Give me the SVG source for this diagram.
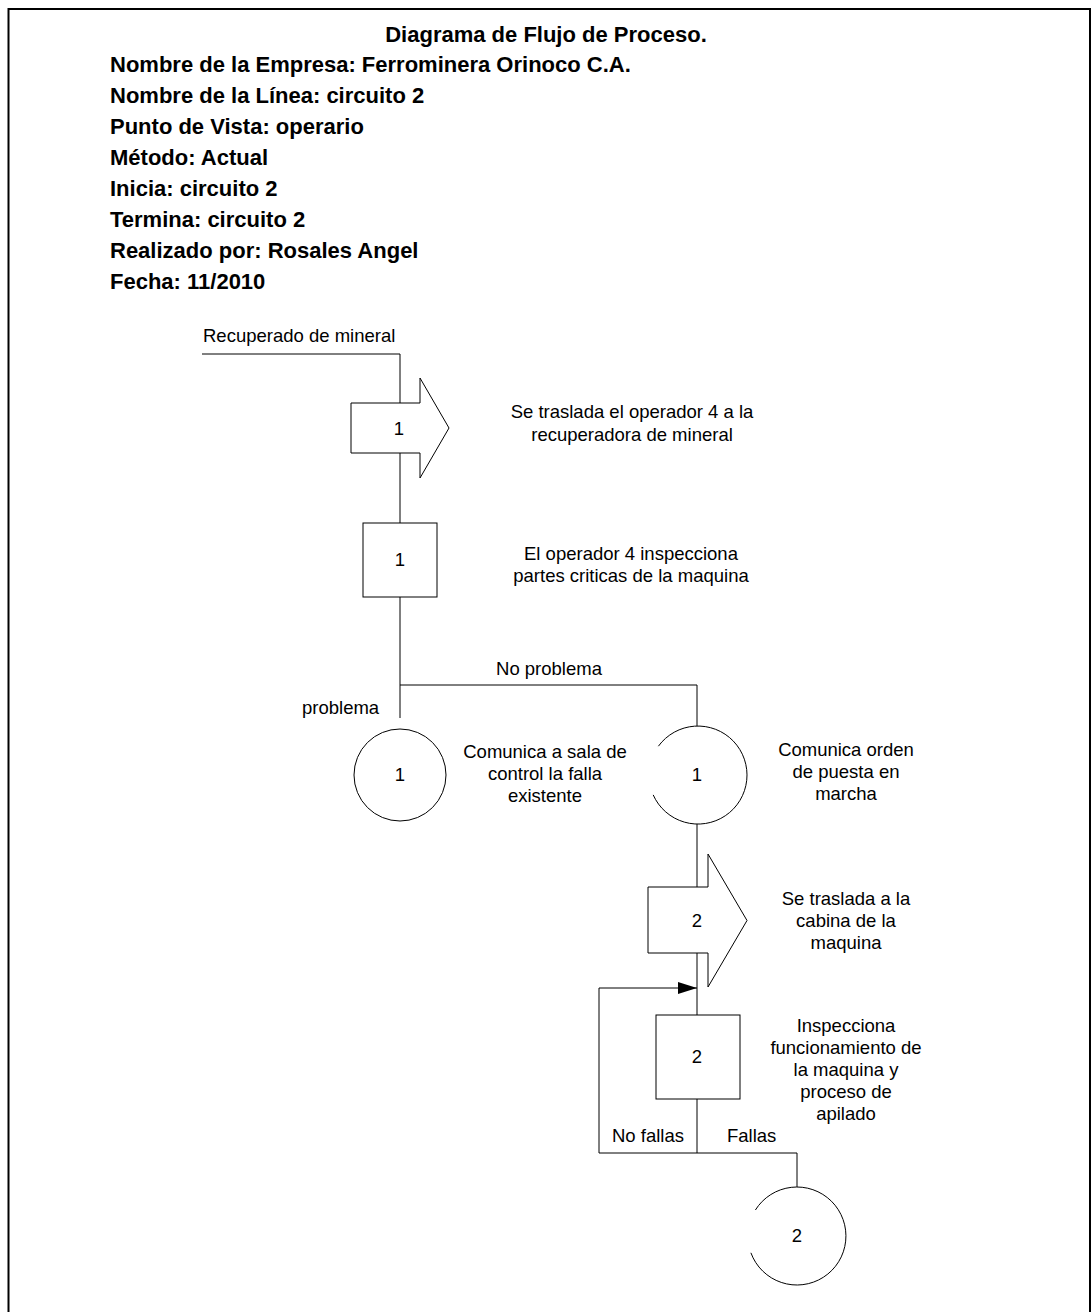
<svg xmlns="http://www.w3.org/2000/svg" width="1092" height="1312" viewBox="0 0 1092 1312">
<style>
.hdr{font-family:"Liberation Sans",Arial,sans-serif;font-weight:bold;font-size:22px;fill:#000}
.t{font-family:"Liberation Sans",Arial,sans-serif;font-size:18.5px;fill:#000}
.c{text-anchor:middle}
.shape{fill:#fff;stroke:#000;stroke-width:1}
.ln{fill:none;stroke:#000;stroke-width:1}
</style>
<defs>
<marker id="ah" markerUnits="userSpaceOnUse" markerWidth="20" markerHeight="14" refX="19" refY="6" orient="auto">
<path d="M0,0 L19,6 L0,12 z" fill="#000"/>
</marker>
</defs>
<rect width="1092" height="1312" fill="#fff"/>
<path d="M8.5,1312 V9 H1090 V1312" fill="none" stroke="#000" stroke-width="2"/>
<g id="header">
<text class="hdr c" x="546" y="42">Diagrama de Flujo de Proceso.</text>
<text class="hdr" x="110" y="72">Nombre de la Empresa: Ferrominera Orinoco C.A.</text>
<text class="hdr" x="110" y="103">Nombre de la Línea: circuito 2</text>
<text class="hdr" x="110" y="134">Punto de Vista: operario</text>
<text class="hdr" x="110" y="165">Método: Actual</text>
<text class="hdr" x="110" y="196">Inicia: circuito 2</text>
<text class="hdr" x="110" y="227">Termina: circuito 2</text>
<text class="hdr" x="110" y="258">Realizado por: Rosales Angel</text>
<text class="hdr" x="110" y="289">Fecha: 11/2010</text>
</g>
<g id="connectors">
<path class="ln" d="M202,354 H400 V403"/>
<path class="ln" d="M400,453 V523"/>
<path class="ln" d="M400,597 V718"/>
<path class="ln" d="M400,685 H697 V726"/>
<path class="ln" d="M697,824 V887"/>
<path class="ln" d="M697,953 V1015"/>
<path class="ln" d="M697,1099 V1153"/>
<path class="ln" d="M599,1153 H797 V1187"/>
<path class="ln" d="M599,1153 V988 H697" marker-end="url(#ah)"/>
<text class="t" x="203" y="342">Recuperado de mineral</text>
<text class="t c" x="549" y="675">No problema</text>
<text class="t" x="302" y="714">problema</text>
<text class="t" x="612" y="1142">No fallas</text>
<text class="t" x="727" y="1142">Fallas</text>
</g>
<g id="transporte1">
<polygon class="shape" points="351,403 420,403 420,378 449,428 420,478 420,453 351,453"/>
<text class="t c" x="399" y="435">1</text>
<text class="t c" x="632" y="418">Se traslada el operador 4 a la</text>
<text class="t c" x="632" y="441">recuperadora de mineral</text>
</g>
<g id="inspeccion1">
<rect class="shape" x="363" y="523" width="74" height="74"/>
<text class="t c" x="400" y="566">1</text>
<text class="t c" x="631" y="560">El operador 4 inspecciona</text>
<text class="t c" x="631" y="582">partes criticas de la maquina</text>
</g>
<g id="operacion1a">
<circle class="shape" cx="400" cy="775" r="46"/>
<text class="t c" x="400" y="781">1</text>
<text class="t c" x="545" y="758">Comunica a sala de</text>
<text class="t c" x="545" y="780">control la falla</text>
<text class="t c" x="545" y="802">existente</text>
</g>
<g id="operacion1b">
<path class="ln" d="M658.4,746.2 A49,49 0 1 1 653.2,794.9"/>
<text class="t c" x="697" y="781">1</text>
<text class="t c" x="846" y="756">Comunica orden</text>
<text class="t c" x="846" y="778">de puesta en</text>
<text class="t c" x="846" y="800">marcha</text>
</g>
<g id="transporte2">
<polygon class="shape" points="648,887 708,887 708,854 747,920.5 708,987 708,953 648,953"/>
<text class="t c" x="697" y="927">2</text>
<text class="t c" x="846" y="905">Se traslada a la</text>
<text class="t c" x="846" y="927">cabina de la</text>
<text class="t c" x="846" y="949">maquina</text>
</g>
<g id="inspeccion2">
<rect class="shape" x="656" y="1015" width="84" height="84"/>
<text class="t c" x="697" y="1063">2</text>
<text class="t c" x="846" y="1032">Inspecciona</text>
<text class="t c" x="846" y="1054">funcionamiento de</text>
<text class="t c" x="846" y="1076">la maquina y</text>
<text class="t c" x="846" y="1098">proceso de</text>
<text class="t c" x="846" y="1120">apilado</text>
</g>
<g id="operacion2">
<path class="ln" d="M755.4,1210 A49,49 0 1 1 750.9,1252.8"/>
<text class="t c" x="797" y="1242">2</text>
</g>
</svg>
